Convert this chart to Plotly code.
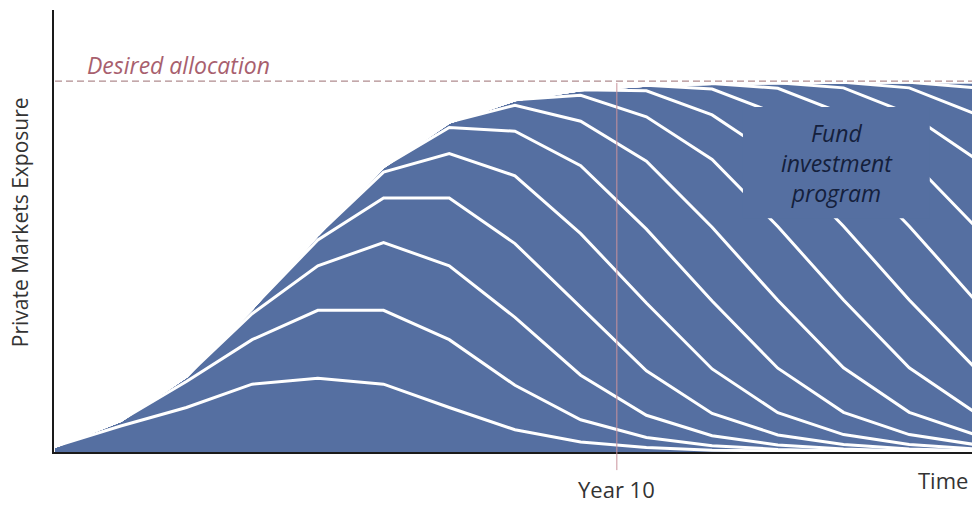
import plotly.graph_objects as go

# ---- data ----
# exposure of one fund vintage per period after its start (desired allocation = 100)
fund_profile = [1.5, 7.0, 12.0, 18.3, 19.9, 18.3, 12.0, 6.0, 2.7, 1.2, 0.5, 0.2, 0.1]
periods = list(range(0, 15))          # time points (one new fund each period)
fund_starts = list(range(0, 15))      # start period of each fund vintage
desired_allocation = 100
year10_position = 8.55                # where "Year 10" falls on the time axis

BLUE = "#556FA1"
FONT = "Open Sans"

fig = go.Figure()
for k in fund_starts:
    ys = []
    for t in periods:
        i = t - k
        ys.append(fund_profile[i] if 0 <= i < len(fund_profile) else 0)
    fig.add_trace(go.Scatter(
        x=periods, y=ys, stackgroup="funds", mode="lines",
        line=dict(color="white", width=3), fillcolor=BLUE,
        hoverinfo="skip", showlegend=False))

# desired allocation dashed line
fig.add_trace(go.Scatter(
    x=[periods[0], periods[-1]], y=[desired_allocation, desired_allocation],
    mode="lines", line=dict(color="#b08c8f", width=1.2, dash="7px,4px"),
    hoverinfo="skip", showlegend=False))

shapes = [
    # Year 10 marker
    dict(type="line", xref="x", yref="paper", x0=year10_position, x1=year10_position,
         y0=-0.041, y1=0.835, line=dict(color="#c9929c", width=1), layer="above"),
    # label box inside the area
    dict(type="rect", xref="paper", yref="paper", x0=0.7505, x1=0.954, y0=0.529, y1=0.7805,
         fillcolor=BLUE, line=dict(width=0), layer="above"),
]

annotations = [
    dict(text="<i>Desired allocation</i>", xref="paper", yref="paper", x=0.034, y=0.876,
         xanchor="left", yanchor="middle", showarrow=False,
         font=dict(family=FONT, size=23, color="#a8606e")),
    dict(text="<i>Fund<br>investment<br>program</i>", xref="paper", yref="paper", x=0.853, y=0.654,
         xanchor="center", yanchor="middle", showarrow=False,
         font=dict(family=FONT, size=23, color="#14203c")),
    dict(text="Year 10", xref="x", yref="paper", x=year10_position, y=-0.083,
         xanchor="center", yanchor="middle", showarrow=False,
         font=dict(family=FONT, size=22, color="#333333")),
    dict(text="Time", xref="paper", yref="paper", x=0.998, y=-0.063,
         xanchor="right", yanchor="middle", showarrow=False,
         font=dict(family=FONT, size=22, color="#333333")),
    dict(text="Private Markets Exposure", xref="paper", yref="paper", x=-0.037, y=0.52,
         xanchor="center", yanchor="middle", showarrow=False, textangle=-90,
         font=dict(family=FONT, size=21, color="#333333")),
]

fig.update_layout(
    width=972, height=509,
    margin=dict(l=54, r=0, t=10, b=57),
    paper_bgcolor="white", plot_bgcolor="white",
    shapes=shapes, annotations=annotations,
    xaxis=dict(range=[-0.015, 13.955], showgrid=False, zeroline=False,
               showticklabels=False, ticks="", showline=True,
               linecolor="#1a1a1a", linewidth=2),
    yaxis=dict(range=[0, 119.2], showgrid=False, zeroline=False,
               showticklabels=False, ticks="", showline=True,
               linecolor="#1a1a1a", linewidth=2),
)

fig.write_html("out.html", config={"displayModeBar": False},
               post_script="document.body.style.margin='0px';")
